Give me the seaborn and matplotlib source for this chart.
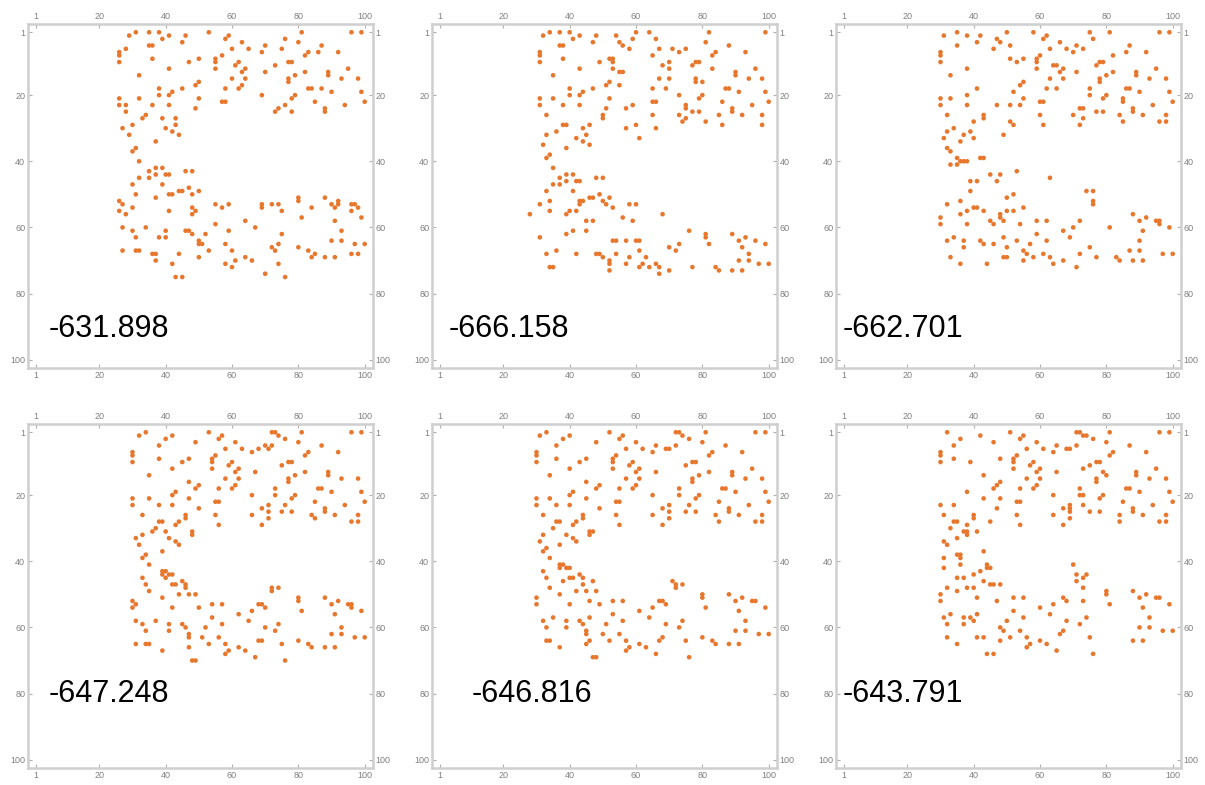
import matplotlib
matplotlib.use("Agg")
import matplotlib.pyplot as plt
import pandas as pd
import seaborn as sns

# Final energy of each configuration
scores = ["-631.898", "-666.158", "-662.701", "-647.248", "-646.816", "-643.791"]

# Occupied sites per configuration: (row, [columns])
sites_a = [
    (1, [31, 35, 38, 53, 81, 96, 99]), (2, [29, 41, 46, 59]), (3, [39, 58, 76]),
    (4, [45, 63, 80]), (5, [35, 36, 70, 87]), (6, [28, 60, 65, 75]),
    (7, [26, 69, 83, 86, 92]), (8, [26, 57, 82]), (9, [36, 50, 55]),
    (10, [26, 47, 55, 62, 77, 78]), (11, [61, 73]), (12, [41, 55, 64, 95]),
    (13, [63, 70, 82, 89]), (14, [32, 79, 89]), (15, [60, 64, 77, 93, 98]),
    (16, [50, 77]), (17, [49, 63]), (18, [38, 45, 58, 62, 83, 84, 87]),
    (19, [42, 90, 99]), (20, [38, 41, 69, 79]), (21, [26, 32, 50, 78]),
    (22, [57, 58, 85, 100]), (23, [26, 28, 36, 41, 76, 94]), (24, [49, 74, 88]),
    (25, [28, 73, 78, 88]), (26, [34]), (27, [33, 39, 43]), (29, [30, 43]),
    (30, [27, 40]), (31, [42]), (32, [29, 44]), (34, [37]), (36, [31]), (37, [30]),
    (40, [32]), (42, [37, 39]), (43, [35, 46, 48]), (44, [37, 40, 41]),
    (45, [32, 35]), (47, [30, 39]), (48, [47]), (49, [44, 45, 50]),
    (50, [31, 41, 42, 48]), (51, [37, 80, 88]), (52, [26, 80, 92]),
    (53, [27, 55, 59, 69, 72, 74, 90, 92, 96, 97]), (54, [30, 48, 57, 69, 84, 91, 98]),
    (55, [26, 41, 49, 75, 96]), (56, [28, 48]), (57, [81, 99]), (58, [64, 91]),
    (59, [55]), (60, [27, 34, 67]), (61, [30, 40, 46, 47, 59, 93]), (62, [48, 52, 75]),
    (63, [31, 38, 40]), (64, [50, 90, 93]), (65, [50, 51, 58, 74, 97, 100]),
    (66, [72, 80]), (67, [27, 31, 32, 53, 60, 73, 83]), (68, [36, 37, 44, 85, 96, 98]),
    (69, [50, 64, 84, 88, 91]), (70, [37, 61, 66]), (71, [42, 58, 74]), (72, [60]),
    (74, [70]), (75, [43, 45, 76]),
]

sites_b = [
    (1, [34, 37, 40, 60, 64, 82, 99]), (2, [32, 43, 48, 54]), (3, [41, 59, 66]),
    (4, [47, 55, 81]), (5, [37, 38, 56, 88]), (6, [58, 67, 71, 75]),
    (7, [31, 73, 84, 93]), (8, [31, 65, 83]), (9, [38, 52, 53]),
    (10, [31, 49, 53, 70, 78, 79]), (11, [68, 77]), (12, [43, 53, 70, 83, 96]),
    (13, [55, 56, 90]), (14, [35, 90]), (15, [67, 70, 78, 94, 98]),
    (16, [52, 78, 80]), (17, [51, 55]), (18, [40, 47, 65, 69, 87, 88]),
    (19, [44, 91, 99]), (20, [40, 43, 73, 80]), (21, [31, 35, 52, 79]),
    (22, [65, 66, 86, 100]), (23, [31, 38, 43, 59, 75, 95]), (24, [51, 57, 75, 89]),
    (25, [77, 79, 89]), (26, [33, 50, 65, 73, 85, 92, 98]), (27, [50, 75]),
    (28, [74, 81]), (29, [38, 39, 46, 60, 86, 98]), (30, [44, 57, 66]), (31, [36]),
    (32, [33, 45]), (33, [42, 61]), (34, [44]), (35, [32, 46]), (36, [39]),
    (38, [34]), (39, [33]), (42, [35]), (44, [39, 41]), (45, [37, 48, 50]),
    (46, [39, 42, 43]), (47, [35, 37]), (49, [33, 41]), (50, [49]),
    (51, [46, 47, 52]), (52, [34, 43, 44, 50]), (53, [31, 43, 51, 58, 60]),
    (54, [53]), (55, [34, 40, 42]), (56, [28, 39, 68]), (57, [56]),
    (58, [45, 47, 59]), (61, [41, 45, 76]), (62, [39, 81, 89]), (63, [31, 81, 93]),
    (64, [53, 54, 57, 60, 61, 91, 96]), (65, [73, 82, 99]), (66, [70, 92]),
    (67, [36, 61, 72]), (68, [33, 42, 48, 49, 54, 94]), (69, [50, 58, 63]),
    (70, [52, 91, 94]), (71, [52, 57, 62, 66, 97, 100]),
    (72, [34, 35, 61, 64, 67, 77, 84]), (73, [52, 70, 85, 89, 92]), (74, [67]),
]

sites_c = [
    (1, [35, 50, 58, 75, 81, 96, 99]), (2, [31, 38, 42, 62]), (3, [47, 61, 76]),
    (4, [41, 48, 66]), (5, [35, 51, 71, 87]), (6, [46, 63, 68, 73]),
    (7, [30, 70, 86, 92]), (8, [30, 60, 82]), (9, [51, 55, 59]),
    (10, [30, 53, 59, 78, 79]), (11, [64, 65, 77]), (12, [38, 59, 67, 95]),
    (13, [66, 71, 82, 89]), (14, [33, 80, 89]), (15, [63, 67, 78, 93, 98]),
    (16, [55, 78]), (17, [54]), (18, [41, 62, 65, 75, 86, 87]), (19, [52, 90, 99]),
    (20, [38, 75, 80]), (21, [30, 33, 55, 79, 85]), (22, [60, 61, 85, 100]),
    (23, [30, 38, 47, 51, 54, 94]), (24, [72, 73, 88]), (25, [77, 79, 88]),
    (26, [32, 43, 60, 70, 84, 91, 98]), (27, [43, 73]), (28, [40, 51, 85, 96, 98]),
    (29, [52, 61, 72]), (30, [34]), (31, [32, 39]), (32, [37, 49]), (33, [31, 40]),
    (34, [36]), (36, [32]), (37, [33]), (39, [35, 42, 43]), (40, [36, 37, 38]),
    (41, [33, 35]), (43, [53]), (44, [45, 48]), (45, [63]), (46, [39, 41, 47]),
    (49, [39, 74, 76]), (50, [52]), (51, [50]), (52, [36, 76]), (53, [32, 76]),
    (54, [40, 41, 55]), (55, [38, 43, 50, 52]), (56, [36, 48, 88]),
    (57, [30, 48, 92]), (58, [45, 49, 59, 62, 72, 90, 95, 96]),
    (59, [30, 38, 46, 54, 96]), (60, [70, 81, 99]), (61, [67, 91]), (62, [59]),
    (63, [34, 49, 69]), (64, [32, 37, 42, 53, 62, 90]), (65, [43, 46, 57]),
    (66, [37, 50, 75]), (67, [55, 87, 90]), (68, [56, 61, 72, 97, 100]),
    (69, [33, 49, 50, 58, 63, 77, 83]), (70, [55, 67, 84, 88, 91]),
    (71, [36, 44, 64]), (72, [71]),
]

sites_d = [
    (1, [34, 53, 72, 73, 81, 96, 99]), (2, [32, 42, 57, 74]), (3, [40, 56, 76]),
    (4, [49, 61, 80]), (5, [38, 70, 72, 87]), (6, [58, 63, 68, 71]),
    (7, [30, 66, 83, 92]), (8, [30, 55, 82]), (9, [38, 47, 54]),
    (10, [30, 45, 54, 60, 77, 78]), (11, [59, 75]), (12, [42, 54, 62]),
    (13, [61, 67, 82, 89]), (14, [35, 79, 89]), (15, [58, 62, 77, 93, 98]),
    (16, [47, 77]), (17, [50, 61]), (18, [49, 56, 60, 73, 86, 87]),
    (19, [43, 90, 99]), (20, [42, 66, 73, 79]), (21, [30, 35, 47, 78]),
    (22, [55, 56, 85, 100]), (23, [30, 38, 42, 71, 76, 94]), (24, [50, 69, 88]),
    (25, [71, 75, 78, 88]), (26, [33, 46, 55, 66, 84, 91, 98]), (27, [46, 71, 85]),
    (28, [38, 39, 44, 96, 98]), (29, [43, 56, 69]), (30, [37]), (31, [36, 40, 48]),
    (32, [33, 48]), (33, [31, 41]), (34, [43]), (35, [32, 44]), (37, [39]),
    (38, [34]), (39, [33]), (41, [35]), (43, [39, 40]), (44, [39, 41, 42]),
    (45, [33, 40]), (46, [45]), (47, [34, 42, 43, 46]), (48, [46, 72, 74]),
    (49, [35, 72]), (50, [44, 47, 49]), (51, [39, 80, 88]), (52, [30, 80, 92]),
    (53, [31, 54, 57, 68, 69, 90, 95, 96]), (54, [30, 42, 50, 70, 96]),
    (55, [66, 81, 99]), (56, [62, 91]), (57, [54]), (58, [31, 37, 65]),
    (59, [33, 41, 45, 57, 74]), (60, [46, 52, 70, 93]), (61, [34, 41, 73]),
    (62, [47, 90, 93]), (63, [47, 51, 56, 97, 100]), (64, [68, 69, 80]),
    (65, [31, 34, 35, 53, 58, 75, 83]), (66, [47, 62, 84, 88, 91]),
    (67, [39, 59, 64]), (68, [58]), (69, [67]), (70, [48, 49, 76]),
]

sites_e = [
    (1, [33, 52, 72, 73, 81, 96, 99]), (2, [31, 40, 56, 74]), (3, [38, 55, 76]),
    (4, [48, 60, 80]), (5, [36, 66, 72, 87]), (6, [57, 62, 69, 70]),
    (7, [30, 65, 83, 92]), (8, [30, 54, 82]), (9, [36, 45, 53]),
    (10, [30, 43, 53, 59, 77, 78]), (11, [58, 75]), (12, [40, 53, 61, 95]),
    (13, [60, 66, 82, 89]), (14, [34, 79, 89]), (15, [57, 61, 77, 93, 98]),
    (16, [45, 77]), (17, [49, 60]), (18, [48, 55, 59, 73, 86, 87]),
    (19, [41, 90, 99]), (20, [40, 65, 73, 79]), (21, [30, 34, 45, 78]),
    (22, [54, 55, 85, 100]), (23, [30, 36, 40, 70, 76, 94]), (24, [49, 68, 88]),
    (25, [70, 75, 78, 88]), (26, [32, 44, 54, 65, 84, 91, 98]), (27, [44, 70]),
    (28, [36, 37, 42, 85, 96, 98]), (29, [41, 55, 68]), (30, [35]), (31, [46, 47]),
    (32, [32, 39, 46]), (33, [41]), (34, [31, 42]), (35, [37]), (36, [33]),
    (37, [32]), (39, [34]), (41, [37, 38]), (42, [37, 39, 40]), (43, [32]),
    (44, [43]), (45, [33, 40, 41, 44]), (46, [38, 47, 71]), (47, [44, 72, 74]),
    (48, [34, 72]), (49, [42, 45, 48]), (50, [37, 80, 88]), (51, [30, 80, 92]),
    (52, [46, 53, 56, 67, 68, 90, 95, 96]), (53, [30, 40, 49, 69]),
    (54, [65, 81, 99]), (55, [61, 91]), (56, [53]), (57, [35, 46, 64]),
    (58, [32, 39, 43, 56, 74, 93]), (59, [44, 51, 69]), (60, [33, 39, 73]),
    (61, [45, 90, 93]), (62, [45, 50, 55, 97, 100]), (63, [68, 80]),
    (64, [33, 34, 46, 52, 57, 67, 75, 83]), (65, [45, 61, 84, 88, 91]),
    (66, [37, 58, 63]), (67, [57]), (68, [66]), (69, [47, 48, 76]),
]

sites_f = [
    (1, [32, 51, 71, 72, 81, 96, 99]), (2, [42, 55, 73, 74]), (3, [36, 54, 76]),
    (4, [46, 59, 80]), (5, [34, 65, 71, 87]), (6, [56, 61, 68, 69]),
    (7, [30, 64, 82, 92]), (8, [30, 53, 81]), (9, [34, 48, 52]),
    (10, [30, 39, 52, 58, 77, 78]), (11, [57, 75]), (12, [52, 60, 73, 95]),
    (13, [59, 65, 79, 89]), (14, [43, 80, 89]), (15, [56, 60, 77, 93, 98]),
    (16, [48, 77]), (17, [47, 59]), (18, [46, 54, 58, 72, 86, 87]),
    (19, [38, 90, 99]), (20, [64, 72, 73, 79]), (21, [43, 48, 78]),
    (22, [53, 54, 85, 100]), (23, [30, 34, 69, 73, 94]), (24, [47, 67, 69, 88]),
    (25, [69, 75, 78, 88]), (26, [31, 40, 53, 64, 84, 91, 98]), (27, [40, 69]),
    (28, [34, 35, 45, 84, 96, 98]), (29, [38, 54, 67]), (30, [33]),
    (31, [37, 38, 41]), (32, [38]), (33, [35]), (34, [31]), (35, [32]), (37, [43]),
    (38, [35, 36]), (39, [31, 36]), (41, [36, 44, 70]), (42, [31, 44, 45]),
    (43, [42]), (44, [40, 71, 74]), (45, [35, 37, 73]), (46, [43, 71]),
    (47, [45, 46, 48]), (48, [32, 38, 40, 73]), (49, [35, 80, 88]),
    (50, [30, 80, 92]), (51, [41, 52, 55, 67, 90, 95, 96]), (52, [30, 47, 68, 73]),
    (53, [64, 81, 99]), (54, [60, 91]), (55, [52]), (56, [33, 41, 63]),
    (57, [31, 37, 39, 55, 74, 93]), (58, [40, 50, 68]), (59, [32, 37, 72]),
    (60, [48, 90, 93]), (61, [49, 54, 67, 97, 100]), (62, [66]),
    (63, [32, 41, 43, 51, 56, 75]), (64, [48, 60, 88, 91]), (65, [35, 57, 62]),
    (66, [56]), (67, [65]), (68, [44, 46, 76]),
]

panels = [sites_a, sites_b, sites_c, sites_d, sites_e, sites_f]
label_x = [4.6, 3.4, 0.4, 4.6, 10.4, 0.4]
label_y = [90.8, 90.8, 90.8, 80.2, 80.2, 80.2]
ticks = [1, 20, 40, 60, 80, 100]


def to_frame(sites):
    cols, rows = [], []
    for r, cs in sites:
        for c in cs:
            cols.append(c)
            rows.append(r)
    return pd.DataFrame({"col": cols, "row": rows})


sns.set_theme(style="white")
plt.rcParams["font.family"] = ["Liberation Sans", "DejaVu Sans"]

W, H = 1205, 785
fig = plt.figure(figsize=(W / 100, H / 100), dpi=100)
fig.patch.set_facecolor("white")

lefts = [28, 432, 836]
tops = [24, 424]
box_w, box_h = 345, 344

for i, sites in enumerate(panels):
    r, c = divmod(i, 3)
    ax = fig.add_axes([lefts[c] / W, 1 - (tops[r] + box_h) / H, box_w / W, box_h / H])
    df = to_frame(sites)
    sns.scatterplot(data=df, x="col", y="row", ax=ax, color="#E8772E",
                    s=11, linewidth=0, edgecolor="none", legend=False)
    ax.set_xlim(-1.5, 102.5)
    ax.set_ylim(102.5, -1.5)
    ax.set_xticks(ticks)
    ax.set_yticks(ticks)
    ax.set_xticklabels([str(t) for t in ticks])
    ax.set_yticklabels([str(t) for t in ticks])
    ax.set_xlabel("")
    ax.set_ylabel("")
    ax.tick_params(which="major", direction="in", length=3, width=0.8,
                   top=True, bottom=True, left=True, right=True,
                   labeltop=True, labelbottom=True, labelleft=True, labelright=True,
                   color="#b0b0b0", labelcolor="#808080", labelsize=6.5, pad=2)
    for sp in ax.spines.values():
        sp.set_color("#cfcfcf")
        sp.set_linewidth(1.8)
    ax.text(label_x[i], label_y[i], scores[i], ha="left", va="center",
            fontsize=22, color="black")

fig.savefig("out.png", dpi=100, facecolor="white")
